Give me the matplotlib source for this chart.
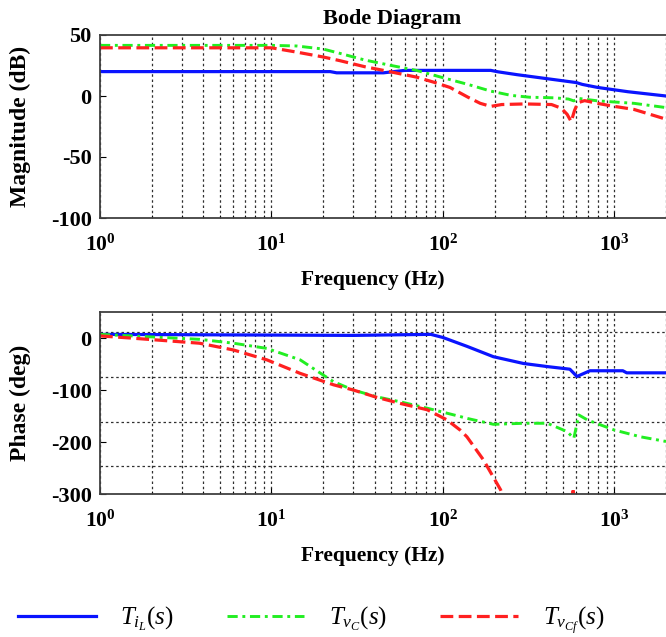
import matplotlib
matplotlib.use("Agg")
import math
import matplotlib.pyplot as plt
from matplotlib.ticker import FixedLocator, FuncFormatter, LogLocator, NullFormatter
from matplotlib.lines import Line2D

plt.rcParams['font.family'] = ['Liberation Serif', 'DejaVu Serif']
plt.rcParams['mathtext.fontset'] = 'custom'
plt.rcParams['mathtext.rm'] = 'Liberation Serif'
plt.rcParams['mathtext.it'] = 'Liberation Serif:italic'
plt.rcParams['mathtext.bf'] = 'Liberation Serif:bold'

# ---------------- data ----------------
blue_mag_f = [1, 22, 24, 45, 60, 190, 210, 270, 390, 600, 650, 800, 1200, 2000]
blue_mag = [20, 20, 19, 19, 21, 21, 19.8, 17.5, 14.5, 11, 9.5, 7, 3.5, 0]

green_mag_f = [1, 10, 14, 20, 25, 35, 50, 70, 100, 140, 190, 250, 320, 450, 540, 580, 620, 800, 1300, 2000]
green_mag = [41.5, 41.5, 41, 38.5, 35, 29.5, 25, 21, 15, 9.5, 4, 0.5, -1, -1.5, -2.5, -4, -2, -4, -6, -9.5]

red_mag_f = [1, 10, 14, 20, 25, 35, 45, 55, 70, 90, 110, 140, 165, 190, 220, 300, 430, 490, 530, 560,
             585, 612, 670, 830, 1000, 1300, 2000]
red_mag = [39.5, 39.5, 36, 32, 29, 24, 21, 18.5, 15.5, 11, 7, -1, -6, -8.5, -7, -6.5, -7, -10, -15, -21,
           -12, -5.5, -3.8, -6.5, -8.5, -11, -19]

blue_ph_f = [1, 30, 85, 100, 138, 197, 295, 407, 550, 605, 720, 1120, 1180, 2000]
blue_ph = [7, 5, 7, 1, -16, -36, -49, -55, -60, -74, -63, -63, -67, -67]

green_ph_f = [1, 3.8, 6, 9.4, 14.7, 20, 23, 30, 41, 56, 81, 126, 138, 197, 295, 407, 530, 580, 620, 700,
              1000, 1420, 2000]
green_ph = [7, -2.5, -10, -20, -42, -71, -84, -100, -113, -122.5, -135, -151, -154.5, -166, -164, -164,
            -180, -193, -148, -158, -177, -190, -199]

red_ph_f = [1, 1.5, 3.8, 6, 9.4, 14.7, 23, 30, 41, 56, 81, 105, 126, 138, 172, 217, 240, 400, 555, 575,
            590, 800, 2000]
red_ph = [4, 0, -10, -23, -42, -68, -90, -100, -114, -125.6, -138, -157, -177, -190, -234, -292, -330,
          -380, -360, -288, -360, -390, -420]

mag_ticks = [50, 0, -50, -100]
mag_grid = [0, -50]
ph_ticks = [0, -100, -200, -300]
ph_grid = [10.9, -75.6, -162, -245.6]
x_range = (1, 2000)

labels = [r'$T_{i_{L}}(s)$', r'$T_{v_{C}}(s)$', r'$T_{v_{Cf}}(s)$']
colors = ['#0a14ff', '#22ee22', '#ff2020']

# ---------------- figure ----------------
W, H = 666, 637
fig = plt.figure(figsize=(W / 100, H / 100), dpi=100)

def fig_rect(x0, y0, x1, y1):
    return [x0 / W, 1 - y1 / H, (x1 - x0) / W, (y1 - y0) / H]

ax1 = fig.add_axes(fig_rect(100, 35, 666, 218))
ax2 = fig.add_axes(fig_rect(100, 312, 666, 494))

styles = [dict(color=colors[0], lw=2.3, ls='-'),
          dict(color=colors[1], lw=2.1, ls=(0, (3.5, 1.6, 1.0, 1.6))),
          dict(color=colors[2], lw=2.3, ls=(0, (4.0, 1.7)))]

ax1.plot(blue_mag_f, blue_mag, **styles[0])
ax1.plot(green_mag_f, green_mag, **styles[1])
ax1.plot(red_mag_f, red_mag, **styles[2])

ax2.plot(blue_ph_f, blue_ph, **styles[0])
ax2.plot(green_ph_f, green_ph, **styles[1])
ax2.plot(red_ph_f, red_ph, **styles[2])

gridkw = dict(color='#303030', lw=0.9, ls=(0, (2.0, 2.2)))

def xfmt(v, pos):
    e = int(round(math.log10(v)))
    return r'$\mathbf{10^{%d}}$' % e

for ax in (ax1, ax2):
    ax.set_xscale('log')
    ax.set_xlim(*x_range)
    ax.xaxis.set_major_locator(LogLocator(base=10, numticks=10))
    ax.xaxis.set_minor_locator(LogLocator(base=10, subs=[2, 3, 4, 5, 6, 7, 8, 9], numticks=20))
    ax.xaxis.set_major_formatter(FuncFormatter(xfmt))
    ax.xaxis.set_minor_formatter(NullFormatter())
    ax.xaxis.grid(True, which='both', **gridkw)
    ax.tick_params(axis='x', which='major', direction='in', length=4, pad=12, labelsize=15.5)
    ax.tick_params(axis='x', which='minor', direction='in', length=2)
    ax.tick_params(axis='y', which='major', direction='in', length=4, pad=6)
    for s in ['left', 'bottom', 'top']:
        ax.spines[s].set_color('#404040')
        ax.spines[s].set_linewidth(1.3)
    ax.spines['right'].set_visible(False)
    ax.set_xlabel('Frequency (Hz)', fontsize=15.5, fontweight='bold')
    ax.xaxis.set_label_coords(0.482, -0.285)

ax1.set_ylim(-100, 50)
ax1.yaxis.set_major_locator(FixedLocator(mag_ticks))
ax1.yaxis.set_minor_locator(FixedLocator(mag_grid))
ax1.yaxis.grid(True, which='minor', **gridkw)
ax1.tick_params(axis='y', which='minor', length=0)
ax1.set_yticklabels([str(t) for t in mag_ticks], fontweight='bold', fontsize=16)
ax1.set_ylabel('Magnitude (dB)', fontsize=17, fontweight='bold')
ax1.yaxis.set_label_coords(-0.122, 0.5)
ax1.set_title('Bode Diagram', fontsize=16, fontweight='bold', x=0.516, pad=8)

ax2.set_ylim(-300, 50)
ax2.yaxis.set_major_locator(FixedLocator(ph_ticks))
ax2.yaxis.set_minor_locator(FixedLocator(ph_grid))
ax2.yaxis.grid(True, which='minor', **gridkw)
ax2.tick_params(axis='y', which='minor', length=0)
ax2.set_yticklabels([str(t) for t in ph_ticks], fontweight='bold', fontsize=16)
ax2.set_ylabel('Phase (deg)', fontsize=17, fontweight='bold')
ax2.yaxis.set_label_coords(-0.122, 0.5)

handles = [Line2D([], [], **st) for st in styles]
fig.legend(handles, labels, loc='center left', bbox_to_anchor=(18 / W, 1 - 620 / H),
           ncol=3, frameon=False, fontsize=18, handlelength=3.1, handletextpad=1.0,
           columnspacing=2.1, borderpad=0, borderaxespad=0)

fig.savefig('out.png', dpi=100)
